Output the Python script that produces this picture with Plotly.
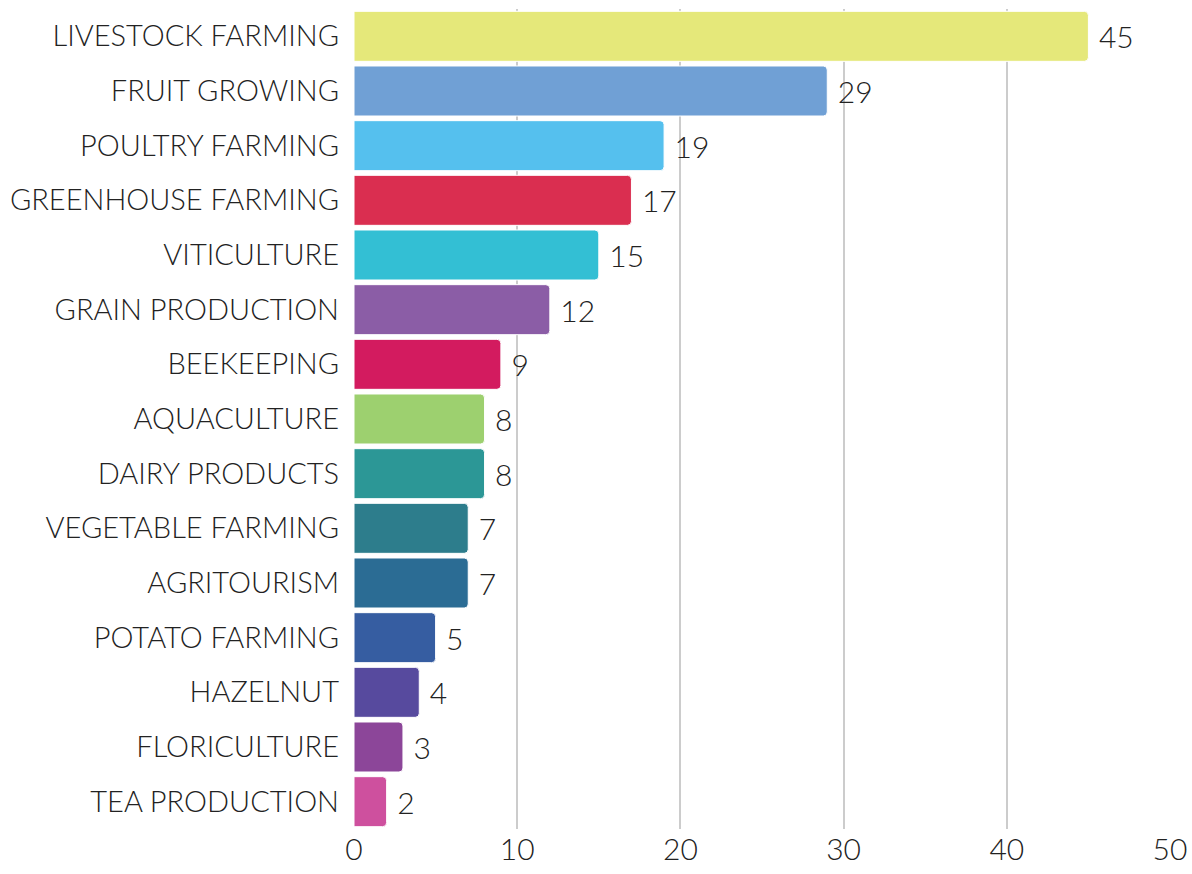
import plotly.graph_objects as go

categories = ["LIVESTOCK FARMING", "FRUIT GROWING", "POULTRY FARMING", "GREENHOUSE FARMING",
              "VITICULTURE", "GRAIN PRODUCTION", "BEEKEEPING", "AQUACULTURE", "DAIRY PRODUCTS",
              "VEGETABLE FARMING", "AGRITOURISM", "POTATO FARMING", "HAZELNUT", "FLORICULTURE",
              "TEA PRODUCTION"]
values = [45, 29, 19, 17, 15, 12, 9, 8, 8, 7, 7, 5, 4, 3, 2]
colors = ["#E5E87A", "#70A0D5", "#55C0EE", "#DA2E50", "#33BFD4", "#8B5DA6", "#D31B5F",
          "#9DD06F", "#2C9796", "#2D7D8C", "#2B6C94", "#365DA1", "#574A9E", "#8C4699", "#CE509E"]
x_ticks = [0, 10, 20, 30, 40, 50]

FONT = "Lato, 'Open Sans', sans-serif"
FS = 30

fig = go.Figure(go.Bar(
    x=values, y=categories, orientation="h",
    marker=dict(color=colors, line=dict(color="white", width=1), cornerradius=4),
    text=values, texttemplate="\u2009\u2009%{x}", textposition="outside", cliponaxis=False,
    textfont=dict(family=FONT, size=FS, color="#222222", weight=300),
    width=0.915, hoverinfo="skip",
))

fig.update_layout(
    width=1192, height=874,
    margin=dict(l=354, r=22, t=9, b=45, autoexpand=False),
    plot_bgcolor="white", paper_bgcolor="white",
    showlegend=False,
    font=dict(family=FONT, size=FS, color="#222222", weight=300),
    xaxis=dict(range=[0, 50], tickvals=x_ticks, showgrid=True, gridcolor="#CCCCCC", gridwidth=2,
               zeroline=False, showline=False, ticks="", automargin=False,
               tickfont=dict(size=FS, color="#222222", weight=300)),
    yaxis=dict(autorange="reversed", showgrid=False, zeroline=False, showline=False,
               ticks="", ticklabelstandoff=14, automargin=False,
               tickfont=dict(size=29, color="#222222", weight=300)),
)

fig.write_html("out.html", config={"displayModeBar": False},
               post_script="document.body.style.margin='0';document.body.style.overflow='hidden';")
